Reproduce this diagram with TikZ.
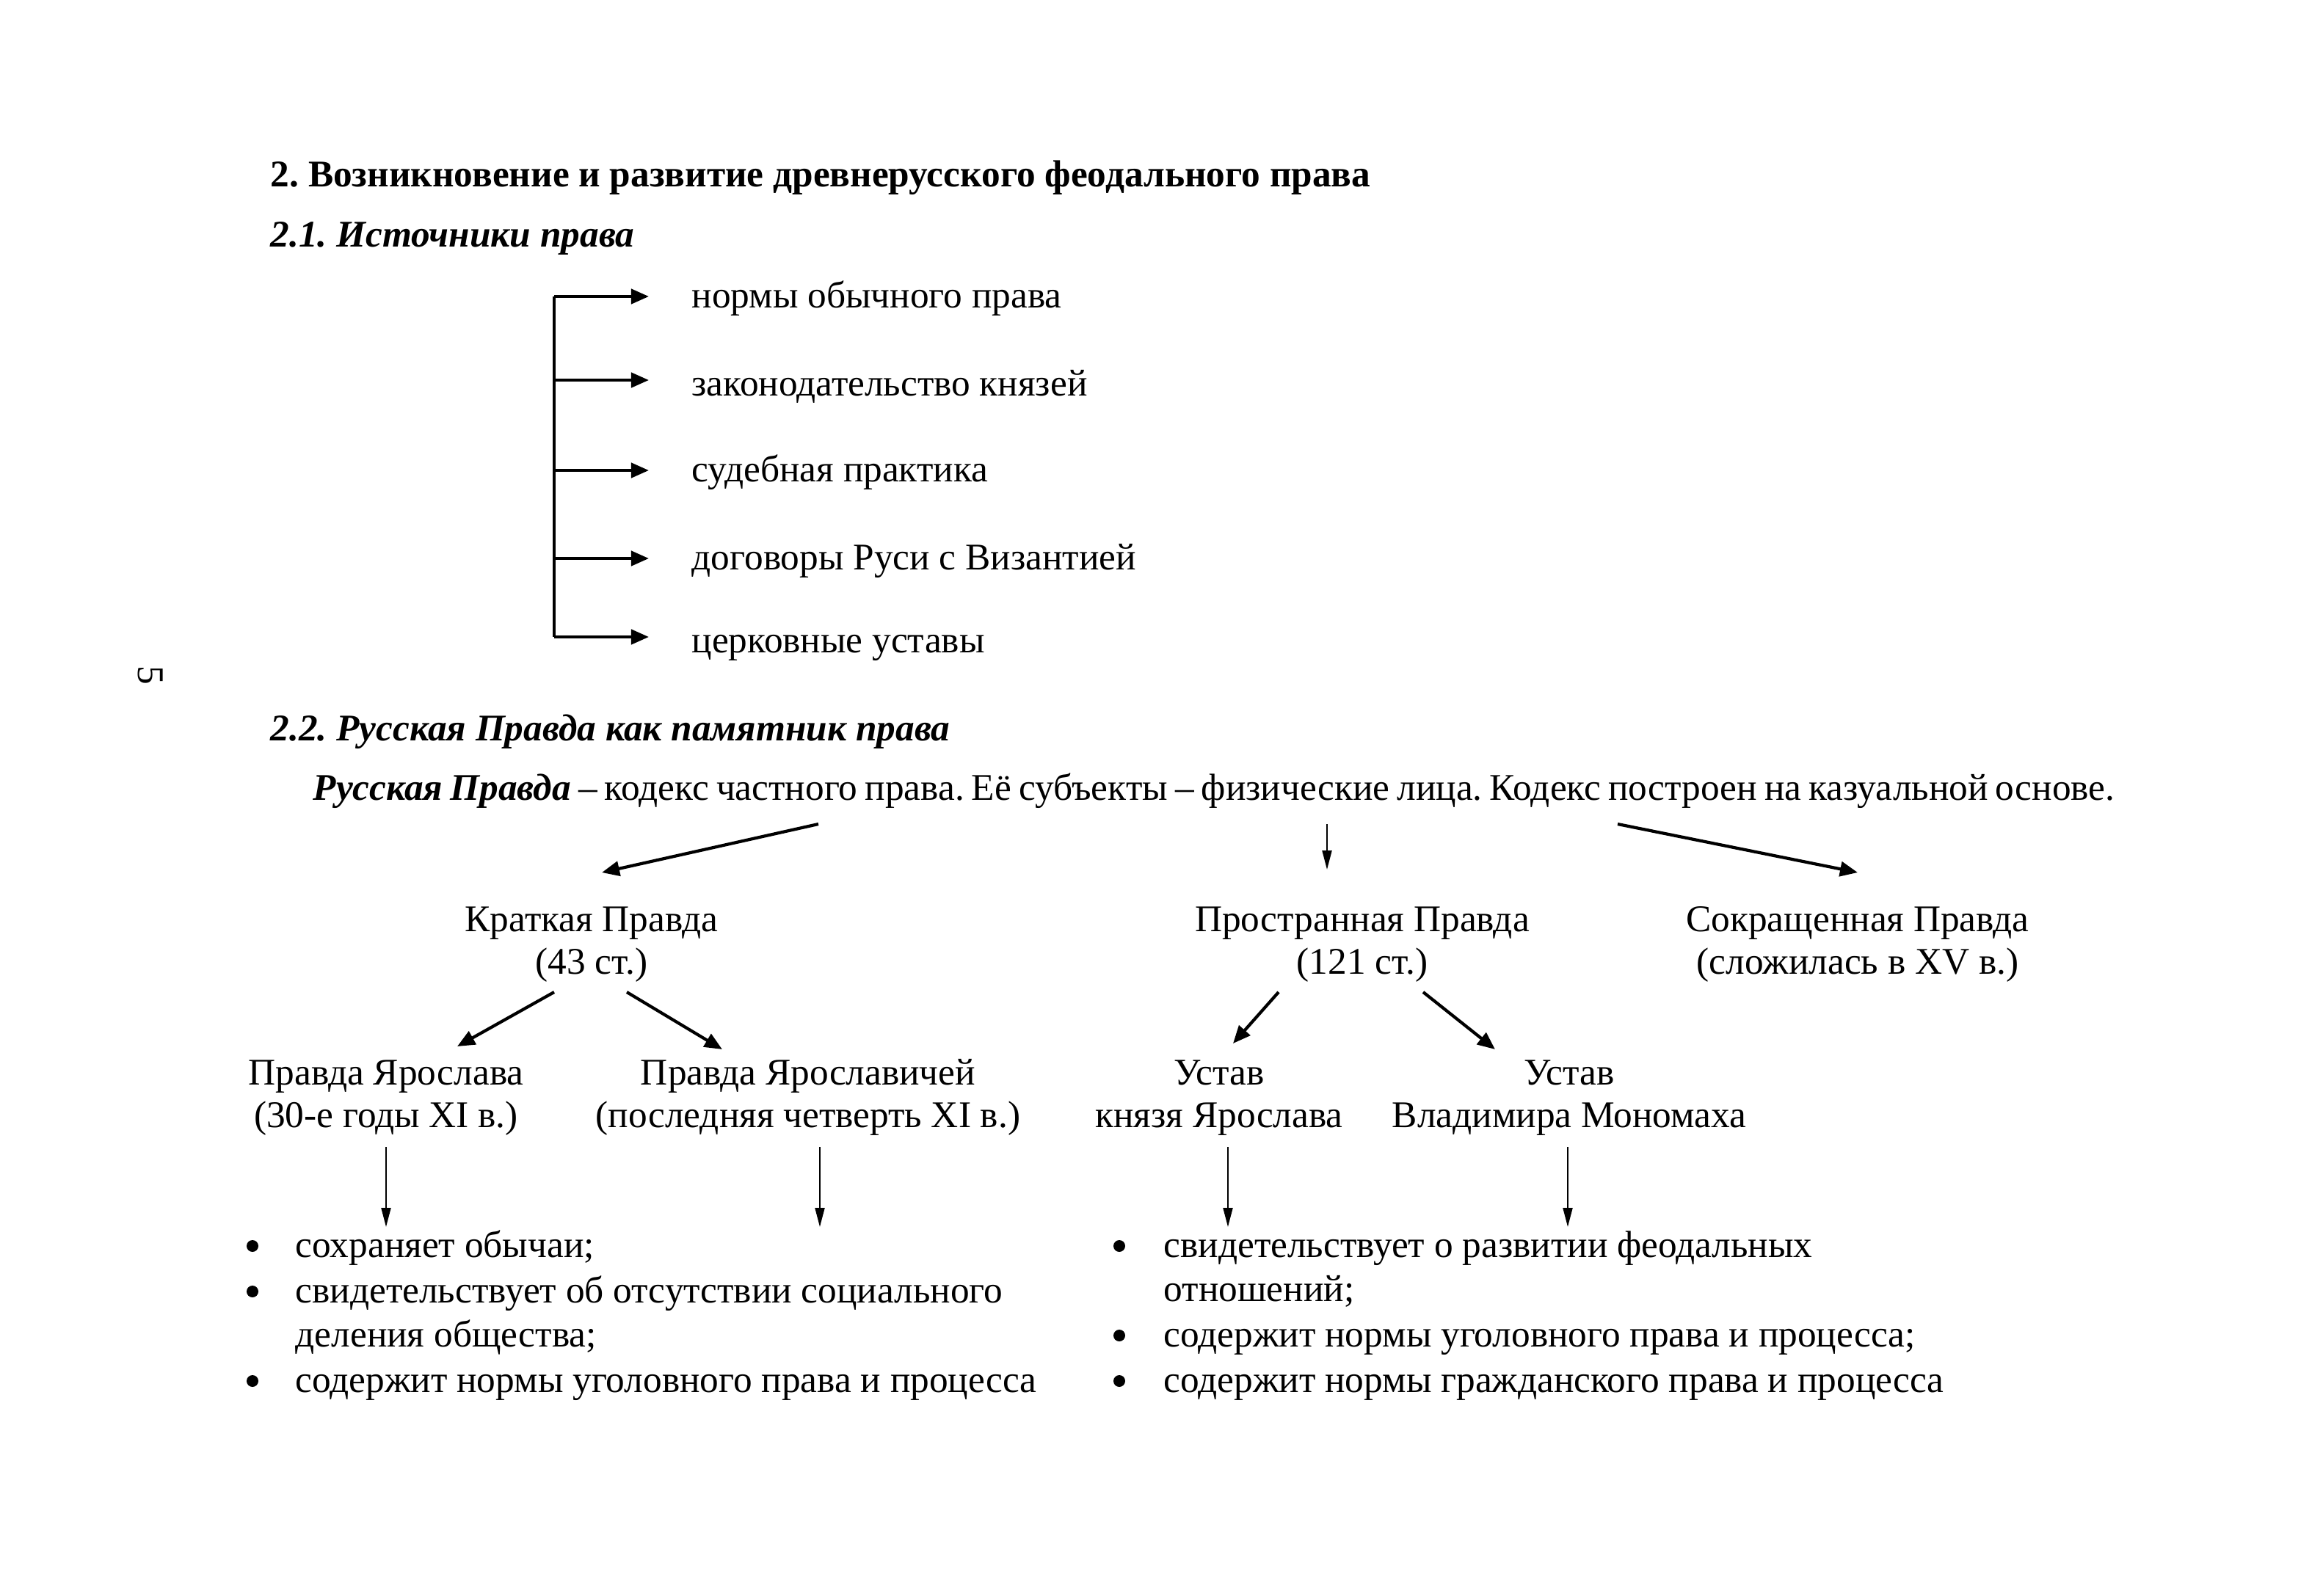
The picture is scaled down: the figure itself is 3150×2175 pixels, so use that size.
\documentclass[tikz,border=0pt]{standalone}
\usepackage{fontspec}
\setmainfont{Liberation Serif}
\usetikzlibrary{arrows.meta}
\frenchspacing
\begin{document}
\begin{tikzpicture}[x=0.01cm,y=-0.01cm,
  every node/.style={inner sep=0pt, font=\fontsize{14.6}{17.2}\selectfont},
  txt/.style={anchor=mid west, yshift=-0.07cm},
  ctr/.style={anchor=mid, yshift=-0.07cm},
  bracketline/.style={line width=1.2pt},
  thickarrow/.style={line width=1.2pt, -{Triangle[length=0.24cm,width=0.2cm]}},
  thinarrow/.style={line width=0.6pt, -{Triangle[length=0.26cm,width=0.13cm]}},
  bulletdot/.style={circle, fill=black, minimum size=0.16cm, inner sep=0pt},
]
\useasboundingbox[fill=white] (0,0) rectangle (3150,2175);

% headings
\node[txt] (title) at (368,239) {\bfseries 2. Возникновение и развитие древнерусского феодального права};
\node[txt] (h21) at (368,321) {\bfseries\itshape 2.1. Источники права};
\node[rotate=-90] (pagenum) at (205,920) {5};
\node[txt] (h22) at (368,994) {\bfseries\itshape 2.2. Русская Правда как памятник права};

% sources list
\node[txt] (s1) at (942,404) {нормы обычного права};
\node[txt] (s2) at (942,524) {законодательство князей};
\node[txt] (s3) at (942,641) {судебная практика};
\node[txt] (s4) at (942,761) {договоры Руси с Византией};
\node[txt] (s5) at (942,874) {церковные уставы};

\coordinate (btop) at (755,404);
\coordinate (bbot) at (755,868);
\draw[bracketline] (btop) -- (bbot);
\coordinate (e1) at (884,404);
\coordinate (e2) at (884,518);
\coordinate (e3) at (884,641);
\coordinate (e4) at (884,761);
\coordinate (e5) at (884,868);
\draw[thickarrow] (btop) -- (e1);
\draw[thickarrow] (btop|-e2) -- (e2);
\draw[thickarrow] (btop|-e3) -- (e3);
\draw[thickarrow] (btop|-e4) -- (e4);
\draw[thickarrow] (bbot) -- (e5);

% main sentence
\node[txt] (rp) at (426,1075) {\spaceskip=2.9pt plus 1pt minus 0.5pt {\bfseries\itshape Русская Правда} – кодекс частного права. Её субъекты – физические лица. Кодекс построен на казуальной основе.};

% level 1
\node[ctr] (kr1) at (806,1254) {Краткая Правда};
\node[ctr] (kr2) at (806,1312) {(43 ст.)};
\node[ctr] (pr1) at (1856,1254) {Пространная Правда};
\node[ctr] (pr2) at (1856,1312) {(121 ст.)};
\node[ctr] (sk1) at (2531,1254) {Сокращенная Правда};
\node[ctr] (sk2) at (2531,1312) {(сложилась в XV в.)};

\coordinate (a1s) at (1115,1123);
\coordinate (a1e) at (820,1189);
\coordinate (a2s) at (1808,1123);
\coordinate (a2e) at (1808,1185);
\coordinate (a3s) at (2204,1123);
\coordinate (a3e) at (2531,1189);
\draw[thickarrow] (a1s) -- (a1e);
\draw[thinarrow] (a2s) -- (a2e);
\draw[thickarrow] (a3s) -- (a3e);

% level 2
\node[ctr] (py1) at (526,1463) {Правда Ярослава};
\node[ctr] (py2) at (526,1521) {(30-е годы XI в.)};
\node[ctr] (pv1) at (1101,1463) {Правда Ярославичей};
\node[ctr] (pv2) at (1101,1521) {(последняя четверть XI в.)};
\node[ctr] (uy1) at (1661,1463) {Устав};
\node[ctr] (uy2) at (1661,1521) {князя Ярослава};
\node[ctr] (um1) at (2138,1463) {Устав};
\node[ctr] (um2) at (2138,1521) {Владимира Мономаха};

\coordinate (b1s) at (755,1352);
\coordinate (b1e) at (623,1426);
\coordinate (b2s) at (854,1352);
\coordinate (b2e) at (984,1430);
\coordinate (b3s) at (1742,1352);
\coordinate (b3e) at (1680,1422);
\coordinate (b4s) at (1939,1352);
\coordinate (b4e) at (2037,1430);
\draw[thickarrow] (b1s) -- (b1e);
\draw[thickarrow] (b2s) -- (b2e);
\draw[thickarrow] (b3s) -- (b3e);
\draw[thickarrow] (b4s) -- (b4e);

% down arrows
\coordinate (d1s) at (526,1563);  \coordinate (d1e) at (526,1672);
\coordinate (d2s) at (1117,1563); \coordinate (d2e) at (1117,1672);
\coordinate (d3s) at (1673,1563); \coordinate (d3e) at (1673,1672);
\coordinate (d4s) at (2136,1563); \coordinate (d4e) at (2136,1672);
\draw[thinarrow] (d1s) -- (d1e);
\draw[thinarrow] (d2s) -- (d2e);
\draw[thinarrow] (d3s) -- (d3e);
\draw[thinarrow] (d4s) -- (d4e);

% left bullets
\node[bulletdot] (lb1) at (344,1698) {};
\node[txt] (l1) at (402,1698) {сохраняет обычаи;};
\node[bulletdot] (lb2) at (344,1760) {};
\node[txt] (l2) at (402,1760) {свидетельствует об отсутствии социального};
\node[txt] (l2b) at (402,1820) {деления общества;};
\node[bulletdot] (lb3) at (344,1882) {};
\node[txt] (l3) at (402,1882) {содержит нормы уголовного права и процесса};

% right bullets
\node[bulletdot] (rb1) at (1525,1698) {};
\node[txt] (r1) at (1585,1698) {свидетельствует о развитии феодальных};
\node[txt] (r1b) at (1585,1758) {отношений;};
\node[bulletdot] (rb2) at (1525,1820) {};
\node[txt] (r2) at (1585,1820) {содержит нормы уголовного права и процесса;};
\node[bulletdot] (rb3) at (1525,1882) {};
\node[txt] (r3) at (1585,1882) {содержит нормы гражданского права и процесса};
\end{tikzpicture}
\end{document}
